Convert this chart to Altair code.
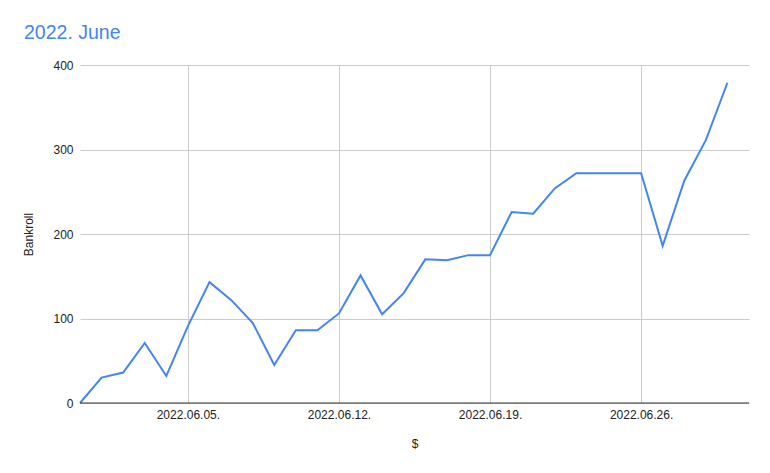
import altair as alt
import pandas as pd

dates = pd.date_range("2022-05-31", "2022-06-30", freq="D")
bankroll = [0, 30, 36, 71, 32, 91, 143, 122, 95, 45, 86, 86, 106, 151, 105, 130,
            170, 169, 175, 175, 226, 224, 254, 272, 272, 272, 272, 186, 263, 311, 379]
tick_dates = [(2022, 6, 5), (2022, 6, 12), (2022, 6, 19), (2022, 6, 26)]

df = pd.DataFrame({"date": dates, "Bankroll": bankroll})

x_axis = alt.Axis(
    title="$",
    values=[alt.DateTime(year=y, month=m, date=d) for y, m, d in tick_dates],
    format="%Y.%m.%d.",
    grid=True, gridColor="#cccccc", domain=False, ticks=False,
    labelFont="Arial", labelFontSize=12, labelColor="#222222", labelPadding=6,
    titleFont="Arial", titleFontSize=12, titleFontWeight="normal", titleColor="#222222",
    titlePadding=18,
)
y_axis = alt.Axis(
    title="Bankroll",
    values=[0, 100, 200, 300, 400],
    grid=True, gridColor="#cccccc", domain=False, ticks=False,
    labelFont="Arial", labelFontSize=12, labelColor="#222222", labelPadding=7,
    titleFont="Arial", titleFontSize=12, titleFontWeight="normal", titleColor="#222222",
    titlePadding=17,
)

line = alt.Chart(df).mark_line(color="#4285F4", strokeWidth=2).encode(
    x=alt.X("date:T", axis=x_axis,
            scale=alt.Scale(domain=[alt.DateTime(year=2022, month=5, date=31),
                                    alt.DateTime(year=2022, month=7, date=1)])),
    y=alt.Y("Bankroll:Q", axis=y_axis, scale=alt.Scale(domain=[0, 400], nice=False)),
)

baseline = alt.Chart(pd.DataFrame({"y": [0]})).mark_rule(color="#333333", strokeWidth=1).encode(
    y=alt.Y("y:Q", scale=alt.Scale(domain=[0, 400], nice=False)),
)

chart = alt.layer(line, baseline).properties(
    width=669, height=338,
    title=alt.TitleParams("2022. June", anchor="start", frame="group", dx=-56,
                          font="Arial", fontSize=19.5, fontWeight="normal",
                          color="#4285F4", offset=16),
    padding={"left": 72, "top": 57, "right": 5, "bottom": 60},
    autosize=alt.AutoSizeParams(type="none"),
).configure_view(stroke=None)

chart.save("out.html", embed_options={"renderer": "svg", "actions": False})
